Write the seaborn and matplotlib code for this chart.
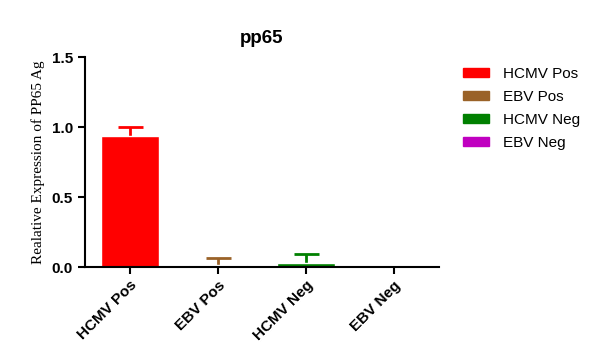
import matplotlib
matplotlib.use("Agg")
import matplotlib.pyplot as plt
import seaborn as sns
import pandas as pd
from matplotlib.patches import Patch

# ==========================================================
# Data
# ==========================================================

groups = ["HCMV Pos", "EBV Pos", "HCMV Neg", "EBV Neg"]
means = [0.94, 0.014, 0.03, 0.0]
errors = [0.06, 0.05, 0.065, 0.0]
colors = ["#FF0000", "#9A6228", "#008000", "#C000C0"]

df = pd.DataFrame({"group": groups, "value": means})

# ==========================================================
# Plot
# ==========================================================

sns.set_style("ticks")
plt.rcParams["font.family"] = ["Liberation Sans", "DejaVu Sans"]
plt.rcParams["text.color"] = "black"
plt.rcParams["axes.labelcolor"] = "black"

fig = plt.figure(figsize=(5.98, 3.42), dpi=100)
ax = fig.add_axes([0.142, 0.219, 0.592, 0.614])

sns.barplot(
    data=df,
    x="group",
    y="value",
    hue="group",
    palette=colors,
    saturation=1,
    width=0.66,
    errorbar=None,
    legend=False,
    ax=ax
)

# upper error bars only (hide the cap at the bar top)
for i, (m, e) in enumerate(zip(means, errors)):
    if e > 0:
        eb = ax.errorbar(i, m, yerr=[[0], [e]], fmt="none", zorder=0.5,
                         ecolor=colors[i], elinewidth=2, capsize=9, capthick=2)
        for cap in eb[1]:
            if abs(cap.get_ydata()[0] - m) < 1e-9:
                cap.set_visible(False)

ax.set_xlim(-0.51, 3.51)
ax.set_ylim(0, 1.5)
ax.set_yticks([0, 0.5, 1.0, 1.5])
ax.set_yticklabels(["0.0", "0.5", "1.0", "1.5"], fontsize=11, fontweight="bold")
ax.set_xticks(range(len(groups)))
ax.set_xticklabels(groups, rotation=45, ha="right", rotation_mode="anchor",
                   fontsize=11, fontweight="bold")

ax.set_xlabel("")
ax.set_ylabel("Realative Expression of PP65 Ag", family="Liberation Serif",
              fontsize=11, labelpad=5, color="black")
ax.set_title("pp65", fontsize=13.5, fontweight="bold", pad=10, color="black")

sns.despine(ax=ax)
for s in ["left", "bottom"]:
    ax.spines[s].set_linewidth(1.5)
    ax.spines[s].set_color("black")
ax.tick_params(width=1.5, length=5, colors="black")
ax.tick_params(axis="x", pad=3)

handles = [Patch(facecolor=c, edgecolor=c) for c in colors]
fig.legend(handles, groups, loc="upper left", bbox_to_anchor=(0.752, 0.845),
           frameon=False, fontsize=11, handlelength=1.7, handleheight=0.55,
           handletextpad=0.9, labelspacing=0.6)

fig.savefig("out.png", dpi=100)
